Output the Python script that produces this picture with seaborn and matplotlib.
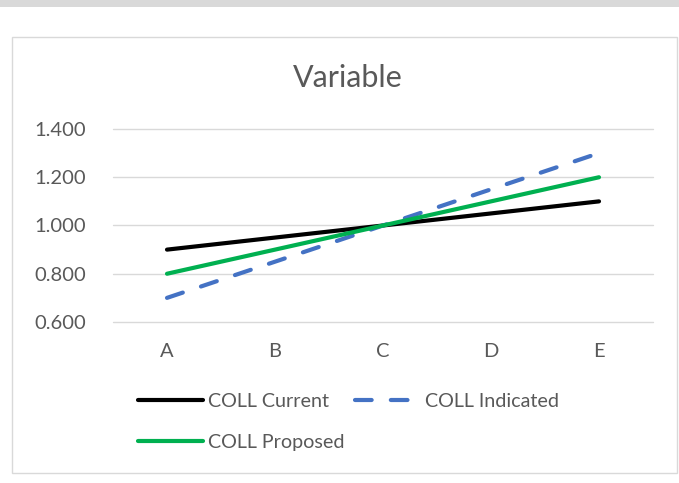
import matplotlib
matplotlib.use("Agg")
import matplotlib.pyplot as plt
import matplotlib.patches as mpatches
import seaborn as sns
import pandas as pd

categories = ["A", "B", "C", "D", "E"]
coll_current = [0.900, 0.950, 1.000, 1.050, 1.100]
coll_indicated = [0.700, 0.850, 1.000, 1.150, 1.300]
coll_proposed = [0.800, 0.900, 1.000, 1.100, 1.200]
series_names = ["COLL Current", "COLL Indicated", "COLL Proposed"]
y_ticks = [0.600, 0.800, 1.000, 1.200, 1.400]

df = pd.DataFrame({
    "cat": categories * 3,
    "value": coll_current + coll_indicated + coll_proposed,
    "series": [s for s in series_names for _ in categories],
})
df["x"] = df["cat"].map({c: i for i, c in enumerate(categories)})

sns.set_theme(style="white")
plt.rcParams["font.family"] = ["Lato", "DejaVu Sans"]
plt.rcParams["lines.solid_capstyle"] = "round"
plt.rcParams["lines.dash_capstyle"] = "round"

W, H, DPI = 679, 483, 100
fig = plt.figure(figsize=(W / DPI, H / DPI), dpi=DPI)
fig.patch.set_facecolor("white")

# top band and chart frame
fig.add_artist(mpatches.Rectangle((0, 1 - 7 / H), 1, 7 / H, transform=fig.transFigure,
                                  facecolor="#D9D9D9", edgecolor="none", zorder=-10))
fig.add_artist(mpatches.Rectangle((12 / W, 1 - 473 / H), (677 - 12) / W, (473 - 37) / H,
                                  transform=fig.transFigure, facecolor="white",
                                  edgecolor="#D9D9D9", linewidth=1.0, zorder=-10))

ax = fig.add_axes([113 / W, 1 - 322 / H, (653 - 113) / W, (322 - 129) / H])
ax.set_facecolor("none")
ax.set_zorder(5)

palette = {"COLL Current": "#000000", "COLL Indicated": "#4472C4", "COLL Proposed": "#00B050"}
dashes = {"COLL Current": "", "COLL Indicated": (4, 4.6), "COLL Proposed": ""}
sns.lineplot(data=df, x="x", y="value", hue="series", style="series",
             palette=palette, dashes=dashes, linewidth=3.0, ax=ax, legend=False,
             hue_order=series_names, style_order=series_names)

ax.set_xlim(-0.5, len(categories) - 0.5)
ax.set_ylim(0.6, 1.4)
ax.set_yticks(y_ticks)
ax.set_yticklabels([f"{v:.3f}" for v in y_ticks])
ax.set_xticks(range(len(categories)))
ax.set_xticklabels(categories)
ax.grid(axis="y", color="#D9D9D9", linewidth=1.0)
for gl in ax.get_ygridlines():
    gl.set_clip_on(False)
ax.set_axisbelow(True)
for s in ax.spines.values():
    s.set_visible(False)
ax.tick_params(axis="both", length=0, labelsize=14.5, colors="#595959")
ax.tick_params(axis="y", pad=19.5)
ax.tick_params(axis="x", pad=15)
ax.set_xlabel("")
ax.set_ylabel("")

fig.text(348 / W, 1 - 78 / H, "Variable", ha="center", va="center",
         fontsize=22, color="#595959")

lines = ax.get_lines()
handles = {name: ln for name, ln in zip(series_names, lines)}
order = ["COLL Current", "COLL Proposed", "COLL Indicated"]
leg = fig.legend([handles[n] for n in order], order, ncol=2,
                 loc="upper left", bbox_to_anchor=(138 / W, 1 - 393 / H),
                 frameon=False, fontsize=14.2, handlelength=3.3,
                 handletextpad=0.25, columnspacing=0.55, labelspacing=1.22,
                 borderaxespad=0, borderpad=0)
for t in leg.get_texts():
    t.set_color("#595959")

fig.savefig("out.png", dpi=DPI, facecolor="white")
